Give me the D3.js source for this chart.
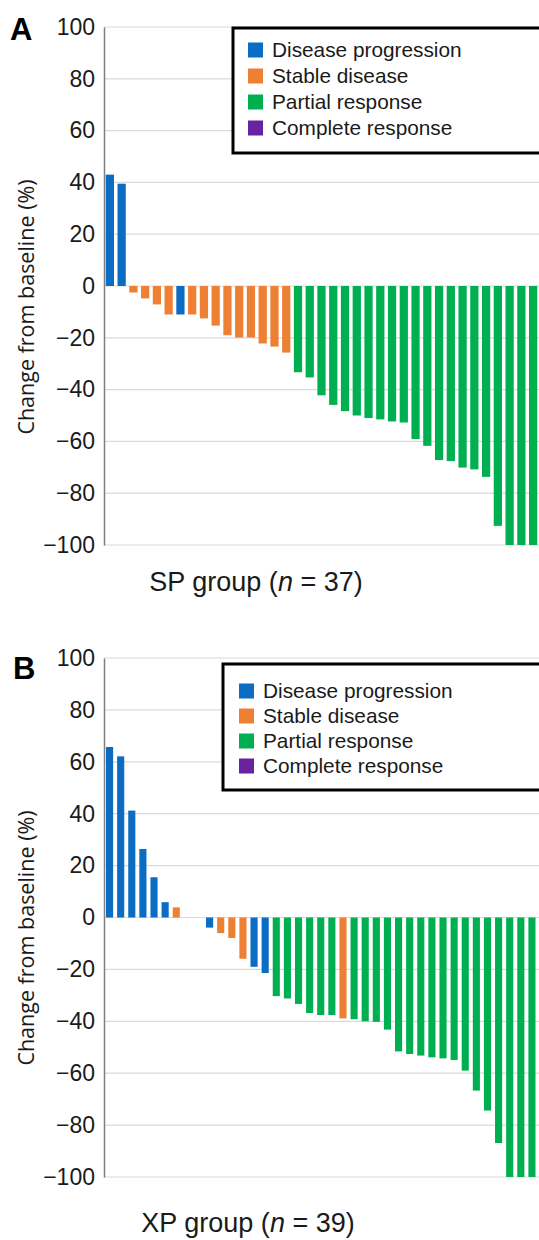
<!DOCTYPE html>
<html>
<head>
<meta charset="utf-8">
<script src="https://cdn.jsdelivr.net/npm/d3@7"></script>
<style>
  html, body { margin: 0; padding: 0; background: #fff; }
  svg { display: block; }
</style>
</head>
<body>
<div id="chart"></div>
<script>
// ---------------- DATA ----------------
const legendLabels = ["Disease progression", "Stable disease", "Partial response", "Complete response"];
const legendKeys = ["PD", "SD", "PR", "CR"];
const yTicks = [100, 80, 60, 40, 20, 0, -20, -40, -60, -80, -100];

// Panel A: SP group
const spCategories = ["PD","PD","SD","SD","SD","SD","PD","SD","SD","SD","SD","SD","SD","SD","SD","SD",
  "PR","PR","PR","PR","PR","PR","PR","PR","PR","PR","PR","PR","PR","PR","PR","PR","PR","PR","PR","PR","PR"];
const spValues = [43, 39.5, -2.5, -4.8, -7.1, -11, -11, -11, -12.5, -15.3, -19, -19.9, -19.9, -22.2, -23.4, -25.7,
  -33.3, -35.3, -42.2, -45.9, -48.3, -50, -51, -51.5, -52.3, -52.7, -59.1, -61.7, -67.2, -67.6, -70.1, -70.8, -73.7,
  -92.6, -100, -100, -100];

// Panel B: XP group
const xpCategories = ["PD","PD","PD","PD","PD","PD","SD","SD","SD","PD","SD","SD","SD","PD","PD",
  "PR","PR","PR","PR","PR","PR","SD","PR","PR","PR","PR","PR","PR","PR","PR","PR","PR","PR","PR","PR","PR","PR","PR","PR"];
const xpValues = [65.7, 62.1, 41.2, 26.4, 15.5, 5.9, 3.9, 0, 0, -3.9, -6, -7.9, -15.9, -19, -21.4,
  -30.3, -31.2, -33.3, -36.8, -37.6, -37.6, -38.9, -39.2, -40, -40.2, -43.2, -51.6, -52.6, -53.2, -53.9, -54.3, -54.9,
  -59, -66.7, -74.4, -86.9, -100, -100, -100];

// ---------------- STYLE ----------------
const colors = { PD: "#0A6CC2", SD: "#EE8034", PR: "#00AF50", CR: "#6A23A0" };
const W = 539, H = 1240;

const svg = d3.select("#chart").append("svg").attr("width", W).attr("height", H);

const panels = [
  { letter: "A", cats: spCategories, vals: spValues, top: 27, bottom: 545, xRange: [104, 539], pad: 0.3,
    legend: { x: 233, y: 28, h: 125, rows: [50, 76, 102, 128], sx: 248, tx: 272 },
    titleY: 307, groupLabel: "SP group (", n: "37", groupY: 591, groupX: 256, letterY: 40, letterX: 10 },
  { letter: "B", cats: xpCategories, vals: xpValues, top: 658, bottom: 1177, xRange: [104, 537.5], pad: 0.36,
    legend: { x: 223, y: 664, h: 126, rows: [691, 716, 741, 766], sx: 239, tx: 263 },
    titleY: 938, groupLabel: "XP group (", n: "39", groupY: 1232, groupX: 248, letterY: 679, letterX: 13 }
];

panels.forEach(p => {
  const g = svg.append("g");
  const y = d3.scaleLinear().domain([-100, 100]).range([p.bottom, p.top]);
  const x = d3.scaleBand().domain(d3.range(p.vals.length)).range(p.xRange)
    .paddingInner(p.pad).paddingOuter(p.pad / 2);

  // gridlines
  g.append("g").selectAll("line").data(yTicks).join("line")
    .attr("x1", 104).attr("x2", W)
    .attr("y1", d => y(d)).attr("y2", d => y(d))
    .attr("stroke", "#d9d9d9").attr("stroke-width", 1.2);

  // y axis
  const axis = d3.axisLeft(y).tickValues(yTicks).tickSize(0).tickPadding(9)
    .tickFormat(d => d < 0 ? "\u2212" + Math.abs(d) : d);
  const ag = g.append("g").attr("transform", "translate(104,0)").call(axis);
  ag.select(".domain").attr("stroke", "#7f7f7f").attr("stroke-width", 1.5);
  ag.selectAll("text").attr("font-family", "'Liberation Sans', Arial, sans-serif")
    .attr("font-size", 23).attr("fill", "#1a1a1a");

  // bars
  g.append("g").selectAll("rect").data(p.vals).join("rect")
    .attr("x", (d, i) => x(i))
    .attr("width", x.bandwidth())
    .attr("y", d => y(Math.max(0, d)))
    .attr("height", d => Math.abs(y(d) - y(0)))
    .attr("fill", (d, i) => colors[p.cats[i]]);

  // legend
  const L = p.legend;
  g.append("rect").attr("x", L.x).attr("y", L.y).attr("width", W - L.x + 20).attr("height", L.h)
    .attr("fill", "#fff").attr("stroke", "#000").attr("stroke-width", 3);
  const lg = g.append("g").selectAll("g").data(legendKeys).join("g")
    .attr("transform", (d, i) => `translate(0,${L.rows[i]})`);
  lg.append("rect").attr("x", L.sx).attr("y", -7.5).attr("width", 15).attr("height", 15)
    .attr("fill", d => colors[d]);
  lg.append("text").attr("x", L.tx).attr("y", 7)
    .attr("font-family", "'Liberation Sans', Arial, sans-serif").attr("font-size", 20.8).attr("fill", "#1a1a1a")
    .text((d, i) => legendLabels[i]);

  // y title
  g.append("text")
    .attr("transform", `translate(34,${p.titleY}) rotate(-90)`)
    .attr("text-anchor", "middle")
    .attr("font-family", "'Open Sans', sans-serif").attr("font-size", 21.5).attr("fill", "#1a1a1a")
    .text("Change from baseline (%)");

  // panel letter
  g.append("text").attr("x", p.letterX).attr("y", p.letterY)
    .attr("font-family", "'Liberation Sans', Arial, sans-serif").attr("font-weight", "bold")
    .attr("font-size", 31).attr("fill", "#000").text(p.letter);

  // group label
  const t = g.append("text").attr("x", p.groupX).attr("y", p.groupY).attr("text-anchor", "middle")
    .attr("font-family", "'Liberation Sans', Arial, sans-serif").attr("font-size", 27).attr("fill", "#1a1a1a");
  t.append("tspan").text(p.groupLabel);
  t.append("tspan").attr("font-style", "italic").text("n");
  t.append("tspan").text(" = " + p.n + ")");
});
</script>
</body>
</html>
